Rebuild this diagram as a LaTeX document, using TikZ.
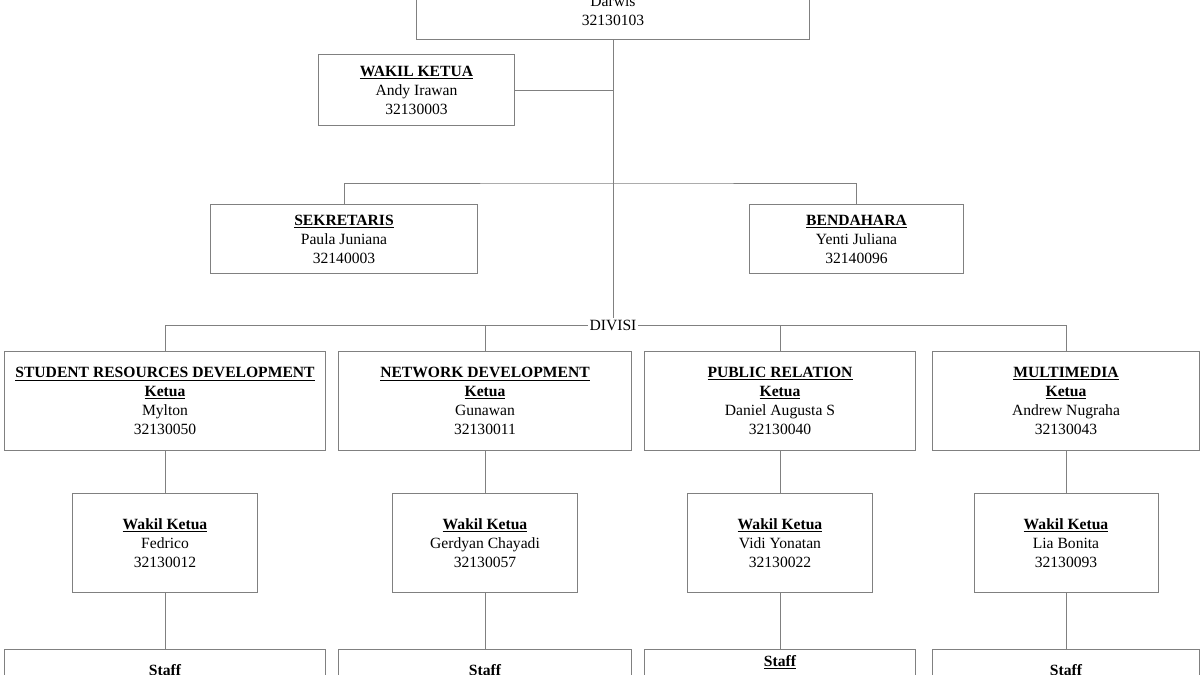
\documentclass[tikz,border=0pt]{standalone}
\usepackage{fontspec}
\setmainfont{Liberation Serif}
\usetikzlibrary{positioning,calc}
\definecolor{cLine}{RGB}{128,128,128}
\newcommand{\jabatan}[1]{\underline{\textbf{#1}}}
\tikzset{
    box/.style={rectangle, draw=cLine, line width=0.7pt, fill=white,
        align=center, inner sep=0pt, text=black,
        font=\fontsize{11.1}{13.5}\selectfont},
    divbox/.style={box, minimum height=2.475cm},
    wkbox/.style={box, minimum width=4.6cm, minimum height=2.475cm},
    staffbox/.style={box, anchor=north, text height=18.2pt, text depth=30pt},
    conn/.style={draw=cLine, line width=0.7pt},
    lbl/.style={font=\fontsize{11.1}{13.5}\selectfont, inner sep=1pt},
}
\begin{document}
\begin{tikzpicture}[x=0.025cm, y=-0.025cm]
\useasboundingbox (0,0) rectangle (1200,675);

% ================================================================
%  TOP — Ketua, Wakil Ketua, Sekretaris, Bendahara
% ================================================================
\node[box, minimum width=9.8cm, minimum height=1.425cm] (ketua) at (613,11)
    {Darwis\\32130103};

\node[box, minimum width=4.875cm, minimum height=1.75cm] (wakil) at (416.5,90)
    {\jabatan{WAKIL KETUA}\\Andy Irawan\\32130003};

\node[box, minimum width=6.65cm, minimum height=1.725cm] (sek) at (344,239)
    {\jabatan{SEKRETARIS}\\Paula Juniana\\32140003};
\node[box, minimum width=5.325cm, minimum height=1.725cm] (bend) at (856.5,239)
    {\jabatan{BENDAHARA}\\Yenti Juliana\\32140096};

\coordinate (cabang) at (613,183);
\node[lbl] (divisi) at (613,325) {DIVISI};

% main trunk
\draw[conn] (ketua.south) -- (divisi.north);
\draw[conn] (wakil.east) -- (wakil.east -| ketua.south);
\draw[conn] (sek.north) |- (cabang) -| (bend.north);

% ================================================================
%  DIVISI — Ketua divisi
% ================================================================
\node[divbox, minimum width=8cm] (srd) at (165,401)
    {\jabatan{STUDENT RESOURCES DEVELOPMENT}\\\jabatan{Ketua}\\Mylton\\32130050};
\node[divbox, minimum width=7.3cm] (nd) at (485,401)
    {\jabatan{NETWORK DEVELOPMENT}\\\jabatan{Ketua}\\Gunawan\\32130011};
\node[divbox, minimum width=6.75cm] (pr) at (780,401)
    {\jabatan{PUBLIC RELATION}\\\jabatan{Ketua}\\Daniel Augusta S\\32130040};
\node[divbox, minimum width=6.65cm] (mm) at (1066,401)
    {\jabatan{MULTIMEDIA}\\\jabatan{Ketua}\\Andrew Nugraha\\32130043};

\draw[conn] (divisi.west) -| (srd.north);
\draw[conn] (divisi.east) -| (mm.north);
\draw[conn] (nd.north) -- (nd.north |- divisi.west);
\draw[conn] (pr.north) -- (pr.north |- divisi.east);

% ================================================================
%  Wakil Ketua divisi
% ================================================================
\node[wkbox] (wsrd) at (165,543) {\jabatan{Wakil Ketua}\\Fedrico\\32130012};
\node[wkbox] (wnd)  at (485,543) {\jabatan{Wakil Ketua}\\Gerdyan Chayadi\\32130057};
\node[wkbox] (wpr)  at (780,543) {\jabatan{Wakil Ketua}\\Vidi Yonatan\\32130022};
\node[wkbox] (wmm)  at (1066,543) {\jabatan{Wakil Ketua}\\Lia Bonita\\32130093};

\draw[conn] (srd.south) -- (wsrd.north);
\draw[conn] (nd.south)  -- (wnd.north);
\draw[conn] (pr.south)  -- (wpr.north);
\draw[conn] (mm.south)  -- (wmm.north);

% ================================================================
%  BOTTOM — Staff
% ================================================================
\node[staffbox, minimum width=8cm]    (ssrd) at (165,649) {\jabatan{Staff}};
\node[staffbox, minimum width=7.3cm]  (snd)  at (485,649) {\jabatan{Staff}};
\node[staffbox, minimum width=6.75cm, text height=11.8pt] (spr) at (780,649)
    {\jabatan{Staff}};
\node[staffbox, minimum width=6.65cm] (smm)  at (1066,649) {\jabatan{Staff}};

\draw[conn] (wsrd.south) -- (ssrd.north);
\draw[conn] (wnd.south)  -- (snd.north);
\draw[conn] (wpr.south)  -- (spr.north);
\draw[conn] (wmm.south)  -- (smm.north);

\end{tikzpicture}
\end{document}
